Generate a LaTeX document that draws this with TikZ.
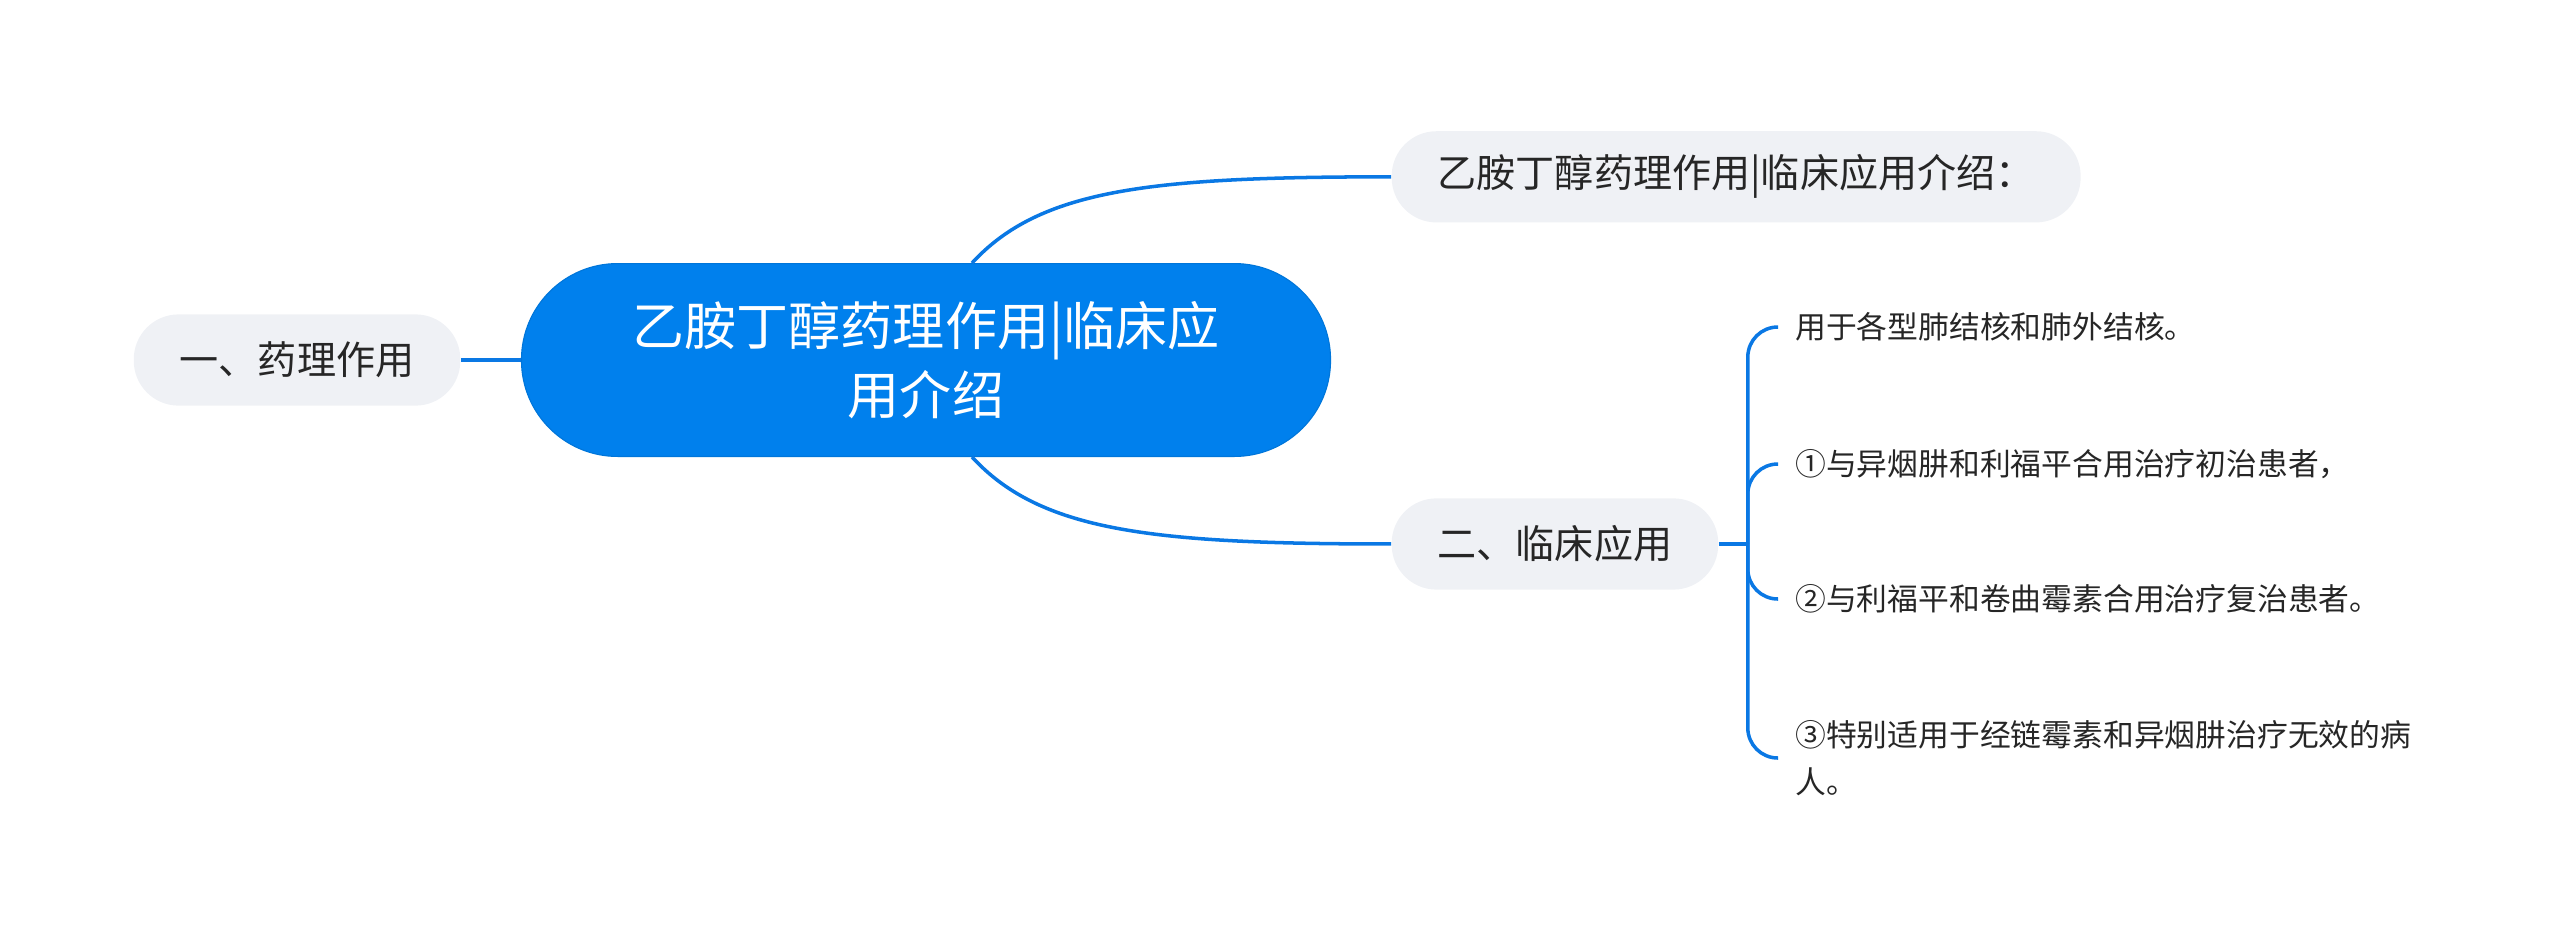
\documentclass[tikz,border=0pt]{standalone}
\usepackage{fontspec}
\setmainfont{Noto Sans CJK SC}
\usepackage{tikz}
\usetikzlibrary{positioning}
\usepackage{xcolor}
\definecolor{mmblue}{RGB}{0,128,237}
\definecolor{mmline}{RGB}{10,120,228}
\definecolor{mmgray}{RGB}{239,241,245}
\definecolor{mmtext}{RGB}{38,38,38}
\tikzstyle{root} = [rectangle, rounded corners=1.2cm, minimum width=10.11cm, minimum height=2.41cm, inner sep=0pt, align=center, fill=mmblue, draw=mmblue!92!black, line width=0.4pt, text=white, font=\fontsize{18.5pt}{24.5pt}\selectfont]
\tikzstyle{topic} = [rectangle, rounded corners=0.56cm, minimum height=1.14cm, inner xsep=0.575cm, inner ysep=0pt, fill=mmgray, text=mmtext, font=\fontsize{13.9pt}{16pt}\selectfont]
\tikzstyle{leaf} = [inner xsep=0.21cm, inner ysep=0pt, anchor=west, align=left, text=mmtext, font=\fontsize{10.95pt}{16.7pt}\selectfont]
\tikzstyle{branch} = [line width=1.25pt, color=mmline]

\begin{document}
\begin{tikzpicture}[x=0.0125cm, y=-0.0125cm]
\useasboundingbox (0,0) rectangle (2560,945);
\node[root] (root) at (926,360) {乙胺丁醇药理作用|临床应\\用介绍};
\node[topic, left=0.75cm of root] (t0) {一、药理作用};
\node[topic, above right=0.5cm and 0.75cm of root] (t1) {乙胺丁醇药理作用|临床应用介绍：};
\node[topic, below right=0.51cm and 0.75cm of root] (t2) {二、临床应用};
\node[leaf] (l1) at (1778,327) {用于各型肺结核和肺外结核。};
\node[leaf] (l2) at (1778,464) {①与异烟肼和利福平合用治疗初治患者，};
\node[leaf] (l3) at (1778,599) {②与利福平和卷曲霉素合用治疗复治患者。};
\node[leaf] (l4) at (1778,758) {③特别适用于经链霉素和异烟肼治疗无效的病\\人。};
\coordinate[right=0.3625cm of t2] (j);
\draw[branch] (root.west) -- (t0.east);
\draw[branch] ([xshift=0.575cm]root.north) .. controls +(68,-74) and +(-241,0) .. (t1.west);
\draw[branch] ([xshift=0.575cm]root.south) .. controls +(68,74) and +(-241,0) .. (t2.west);
\draw[branch] (t2.east) -- (j);
\foreach \l in {l1,l2,l3,l4}
  \draw[branch, rounded corners=0.375cm] (j) |- (\l.west);
\end{tikzpicture}
\end{document}
